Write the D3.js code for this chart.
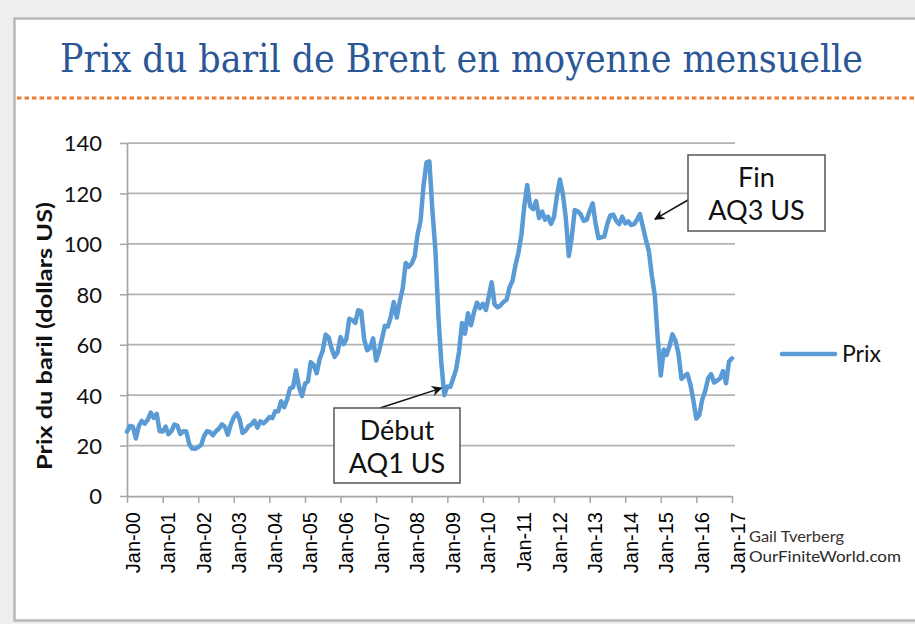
<!DOCTYPE html>
<html><head><meta charset="utf-8">
<script src="https://cdn.jsdelivr.net/npm/d3@7"></script>
<style>
html,body{margin:0;padding:0;background:#efefef;}
svg{display:block;}
</style></head>
<body>
<svg id="chart" width="915" height="624"></svg>
<script>
// ---- Data (Brent monthly average, USD/bbl, Jan 2000 – Jan 2017) ----
const startYear = 2000;
const prix = [
 25.5,27.8,27.5,22.8,27.7,29.8,28.7,30.2,33.1,31.0,32.6,25.7, // 2000
 25.6,27.5,24.5,25.7,28.3,27.9,24.6,25.7,25.6,20.5,18.8,18.7, // 2001
 19.4,20.3,23.7,25.7,25.4,24.1,25.7,26.7,28.4,27.5,24.3,28.3, // 2002
 31.2,32.8,30.6,25.0,25.9,27.7,28.4,29.9,27.1,29.6,28.8,29.8, // 2003
 31.3,30.9,33.6,33.6,37.6,35.2,38.2,42.7,43.2,49.8,43.1,39.6, // 2004
 44.5,45.5,53.1,51.9,48.7,54.4,57.5,64.0,62.9,58.5,55.2,56.9, // 2005
 63.0,60.2,62.1,70.3,69.8,68.6,73.7,73.2,62.0,57.8,58.8,62.5, // 2006
 53.7,57.6,62.1,67.5,67.2,71.1,76.9,70.8,77.2,82.3,92.4,90.9, // 2007
 92.2,95.0,103.6,109.1,122.8,132.3,132.7,113.2,97.2,71.6,52.5,40.0, // 2008
 43.4,43.3,46.5,50.2,57.3,68.6,64.4,72.5,67.7,72.8,76.7,74.5, // 2009
 76.2,73.8,78.8,84.8,76.0,74.8,75.6,77.0,77.8,82.7,85.3,91.5, // 2010
 96.5,103.7,114.6,123.3,115.0,113.8,117.0,110.2,112.8,109.6,110.8,107.9, // 2011
 110.7,119.3,125.5,119.8,110.3,95.2,102.6,113.4,112.9,111.7,109.1,109.5, // 2012
 113.0,116.1,108.5,102.3,102.6,102.9,107.9,111.3,111.6,109.1,107.8,110.8, // 2013
 108.1,108.9,107.5,107.8,109.5,111.8,106.8,101.6,97.1,87.4,79.4,62.3, // 2014
 47.8,58.1,55.9,59.5,64.1,61.5,56.6,46.5,47.6,48.4,44.3,38.0, // 2015
 30.7,32.2,38.2,41.6,46.7,48.3,45.0,45.8,46.6,49.5,44.7,53.3, // 2016
 54.6 // Jan 2017
];
const yTicks = [0,20,40,60,80,100,120,140];
const xTickLabels = ["Jan-00","Jan-01","Jan-02","Jan-03","Jan-04","Jan-05","Jan-06","Jan-07","Jan-08","Jan-09","Jan-10","Jan-11","Jan-12","Jan-13","Jan-14","Jan-15","Jan-16","Jan-17"];
const titre = "Prix du baril de Brent en moyenne mensuelle";
const yTitre = "Prix du baril (dollars US)";
const serieNom = "Prix";
const annotations = [
  {lines:["Début","AQ1 US"], date:[2008,11], value:40.0},
  {lines:["Fin","AQ3 US"], date:[2014,5], value:111.8}
];
const credits = ["Gail Tverberg","OurFiniteWorld.com"];

// ---- Build ----
const data = prix.map((v,i)=>({date:new Date(startYear, i, 1), value:v}));
const tickDates = xTickLabels.map((_,i)=>new Date(startYear+i,0,1));

const svg = d3.select("#chart");
const blue = "#5B9BD5";

// background frame
svg.append("rect").attr("x",0).attr("y",0).attr("width",915).attr("height",624).attr("fill","#efefef");
svg.append("rect").attr("x",14.5).attr("y",18.5).attr("width",910).attr("height",602)
   .attr("fill","#fff").attr("stroke","#b9b9b9").attr("stroke-width",2.5);

// title
svg.append("text").attr("x",60).attr("y",72)
   .attr("font-family","'DejaVu Serif Condensed','DejaVu Serif','Liberation Serif',serif").attr("font-size",40)
   .attr("fill","#2B5797").attr("textLength",803).attr("lengthAdjust","spacingAndGlyphs")
   .text(titre);
// dotted orange separator
svg.append("line").attr("x1",17).attr("x2",915).attr("y1",98).attr("y2",98)
   .attr("stroke","#ED7D31").attr("stroke-width",3).attr("stroke-dasharray","4.5 3");

const x = d3.scaleTime().domain([tickDates[0], tickDates[tickDates.length-1]]).range([127,732]);
const y = d3.scaleLinear().domain([0,140]).range([496,143]);

// gridlines
svg.append("g").selectAll("line").data(yTicks.filter(d=>d>0)).join("line")
   .attr("x1",127).attr("x2",735).attr("y1",d=>y(d)).attr("y2",d=>y(d))
   .attr("stroke","#b3b3b3").attr("stroke-width",1.75);

// y axis
const yAxis = svg.append("g").attr("transform","translate(127,0)")
   .call(d3.axisLeft(y).tickValues(yTicks).tickSize(7).tickSizeOuter(0).tickPadding(18));
yAxis.select(".domain").attr("stroke","#a6a6a6").attr("stroke-width",1.75);
yAxis.selectAll(".tick line").attr("stroke","#a6a6a6").attr("stroke-width",1.5);
yAxis.selectAll(".tick text").attr("font-family","Lato,'Open Sans',sans-serif").attr("font-size",22)
   .attr("fill","#111").attr("dy","0.36em");

// x axis
const xAxis = svg.append("g").attr("transform","translate(0,496)")
   .call(d3.axisBottom(x).tickValues(tickDates).tickSize(7).tickSizeOuter(0).tickFormat((d,i)=>xTickLabels[i]));
xAxis.select(".domain").attr("stroke","#a6a6a6").attr("stroke-width",1.75);
xAxis.selectAll(".tick line").attr("stroke","#a6a6a6").attr("stroke-width",1.5);
xAxis.selectAll(".tick text").attr("x",0).attr("y",0).attr("dy",0)
   .attr("transform","translate(12,16) rotate(-90)").attr("text-anchor","end")
   .attr("font-family","'Liberation Sans',Arial,sans-serif").attr("font-size",20).attr("fill","#000");

// y axis title
svg.append("text").attr("transform","translate(52,336) rotate(-90)").attr("text-anchor","middle")
   .attr("font-family","Lato,'Open Sans',sans-serif").attr("font-weight","bold").attr("font-size",20)
   .attr("fill","#111").attr("textLength",268).attr("lengthAdjust","spacingAndGlyphs").text(yTitre);

// line
const line = d3.line().x(d=>x(d.date)).y(d=>y(d.value));
svg.append("path").datum(data).attr("d",line).attr("fill","none").attr("stroke",blue)
   .attr("stroke-width",4.5).attr("stroke-linejoin","round").attr("stroke-linecap","round");

// legend
svg.append("line").attr("x1",782).attr("x2",835).attr("y1",354).attr("y2",354)
   .attr("stroke",blue).attr("stroke-width",4.5).attr("stroke-linecap","round");
svg.append("text").attr("x",842).attr("y",362).attr("font-family","Lato,'Open Sans',sans-serif")
   .attr("font-size",23).attr("fill","#111").text(serieNom);

// annotations
const defs = svg.append("defs");
defs.append("marker").attr("id","arr").attr("viewBox","0 0 10 10").attr("refX",9).attr("refY",5)
   .attr("markerWidth",7).attr("markerHeight",7).attr("orient","auto-start-reverse")
   .append("path").attr("d","M0,0 L10,5 L0,10 L3,5 Z").attr("fill","#111");

const boxes = [
  {x:334, y:408, w:126, h:75, from:[380,408], to:[-3,-7]},
  {x:688, y:155, w:137, h:76, from:[688,200], to:[15,5]}
];
annotations.forEach((a,i)=>{
  const b = boxes[i];
  const tx = x(new Date(a.date[0], a.date[1], 1)) + b.to[0];
  const ty = y(a.value) + b.to[1];
  svg.append("line").attr("x1",b.from[0]).attr("y1",b.from[1]).attr("x2",tx).attr("y2",ty)
     .attr("stroke","#111").attr("stroke-width",1.5).attr("marker-end","url(#arr)");
  svg.append("rect").attr("x",b.x).attr("y",b.y).attr("width",b.w).attr("height",b.h)
     .attr("fill","#fff").attr("stroke","#555").attr("stroke-width",1.5);
  a.lines.forEach((t,j)=>{
    svg.append("text").attr("x",b.x+b.w/2).attr("y",b.y+32+j*33).attr("text-anchor","middle")
       .attr("font-family","Lato,'Open Sans',sans-serif").attr("font-size",27).attr("fill","#111").text(t);
  });
});

// credits
svg.append("text").attr("x",749).attr("y",542).attr("font-family","Lato,'Open Sans',sans-serif")
   .attr("font-size",16).attr("fill","#3a3030").attr("textLength",95).attr("lengthAdjust","spacingAndGlyphs").text(credits[0]);
svg.append("text").attr("x",749).attr("y",562).attr("font-family","Lato,'Open Sans',sans-serif")
   .attr("font-size",16).attr("fill","#2a2a2a").attr("textLength",152).attr("lengthAdjust","spacingAndGlyphs").text(credits[1]);
</script>
</body></html>
